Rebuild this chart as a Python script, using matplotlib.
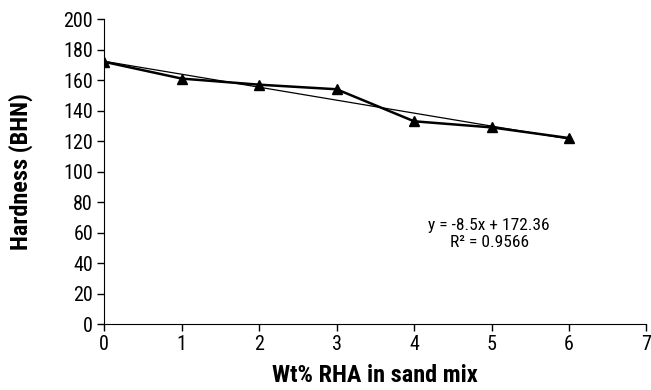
import numpy as np
import matplotlib
matplotlib.use("Agg")
import matplotlib.pyplot as plt

plt.rcParams['font.family'] = ['Roboto Condensed', 'Liberation Sans', 'DejaVu Sans']

wt_rha = [0, 1, 2, 3, 4, 5, 6]
hardness = [172, 161, 157, 154, 133, 129, 122]
x_ticks = [0, 1, 2, 3, 4, 5, 6, 7]
y_ticks = [0, 20, 40, 60, 80, 100, 120, 140, 160, 180, 200]

fig = plt.figure(figsize=(6.51, 3.90), dpi=100)
ax = fig.add_axes([0.16, 0.169, 0.833, 0.782])

ax.plot(wt_rha, hardness, color='black', lw=1.8, marker='^', markersize=7, zorder=3)

slope, intercept = np.polyfit(wt_rha, hardness, 1)
xs = np.array([wt_rha[0], wt_rha[-1]])
ax.plot(xs, slope * xs + intercept, color='black', lw=0.9, zorder=2)
ss_res = np.sum((np.array(hardness) - (slope * np.array(wt_rha) + intercept)) ** 2)
ss_tot = np.sum((np.array(hardness) - np.mean(hardness)) ** 2)
r2 = 1 - ss_res / ss_tot
ax.text(4.97, 59, f"y = {slope:.1f}x + {intercept:.2f}\nR² = {r2:.4f}",
        ha='center', va='center', fontsize=12.5, linespacing=1.15)

ax.set_xlim(0, 7)
ax.set_ylim(0, 200)
ax.set_xticks(x_ticks)
ax.set_yticks(y_ticks)
ax.tick_params(direction='out', length=5, width=1, labelsize=14.5, pad=3)
ax.spines['top'].set_visible(False)
ax.spines['right'].set_visible(False)
ax.set_xlabel('Wt% RHA in sand mix', fontsize=17.5, fontweight='bold', labelpad=7)
ax.set_ylabel('Hardness (BHN)', fontsize=17.5, fontweight='bold', labelpad=22)

fig.savefig('out.png', dpi=100)
